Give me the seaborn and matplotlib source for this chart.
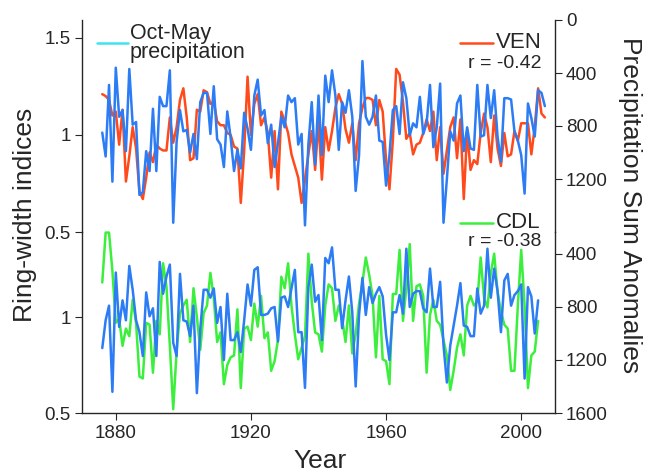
import numpy as np
import pandas as pd
import matplotlib
matplotlib.use('Agg')
import matplotlib.pyplot as plt
from matplotlib.lines import Line2D
import seaborn as sns

# Ring-width indices and Oct-May precipitation sums
ven = [1.21, 1.20, 1.18, 1.10, 1.12, 0.95, 1.13, 0.76, 0.89, 1.04,
       0.93, 0.71, 0.67, 0.78, 0.91, 0.86, 0.95, 0.93, 0.92, 0.92,
       1.09, 0.96, 1.04, 1.18, 1.24, 1.09, 0.87, 0.88, 1.13, 1.12,
       1.23, 1.22, 1.16, 1.17, 1.07, 1.05, 1.05, 1.01, 1.00, 0.94,
       0.93, 0.65, 0.92, 1.30, 1.00, 1.16, 1.21, 1.05, 1.09, 1.01,
       0.78, 1.02, 0.72, 1.12, 1.07, 1.01, 0.90, 0.84, 0.78, 0.65,
       0.77, 0.90, 1.02, 0.82, 1.07, 0.77, 1.04, 0.92, 1.02, 1.14,
       1.21, 1.16, 1.03, 0.96, 1.06, 0.87, 1.06, 1.14, 1.19, 1.19,
       1.18, 1.05, 1.18, 1.12, 0.87, 0.72, 0.97, 1.34, 1.31, 1.17,
       0.98, 1.01, 0.90, 0.95, 0.96, 1.01, 1.08, 1.02, 1.12, 0.87,
       1.04, 0.80, 0.92, 1.04, 1.09, 0.88, 1.08, 0.67, 1.02, 0.82,
       0.87, 0.85, 1.01, 1.11, 1.04, 0.86, 1.10, 0.93, 0.84, 1.01,
       0.89, 0.90, 1.02, 0.97, 1.06, 1.06, 1.06, 0.90, 1.04, 1.24,
       1.11, 1.09]
prec_ven = [850, 1030, 490, 1220, 360, 730, 680, 990, 370, 790,
            770, 1320, 1300, 990, 1140, 670, 1140, 580, 650, 650,
            380, 1530, 920, 680, 840, 830, 1000, 860, 1050, 620,
            550, 550, 860, 500, 900, 940, 1110, 690, 890, 1140,
            980, 1120, 700, 820, 980, 570, 450, 720, 680, 930,
            790, 1110, 930, 730, 810, 570, 620, 590, 940, 860,
            1550, 940, 620, 1090, 570, 1020, 420, 620, 380, 570,
            980, 620, 700, 530, 730, 1290, 1020, 310, 730, 790,
            730, 570, 910, 920, 1250, 1020, 680, 650, 860, 470,
            590, 870, 780, 810, 580, 860, 780, 490, 960, 810,
            480, 1530, 1200, 840, 910, 630, 570, 990, 810, 970,
            980, 490, 880, 870, 490, 740, 530, 880, 1070, 590,
            590, 600, 840, 910, 1020, 1310, 630, 740, 880, 530,
            550, 650]
cdl = [1.18, 1.44, 1.44, 1.24, 0.97, 0.99, 0.85, 0.94, 0.90, 1.09,
       0.97, 0.69, 0.68, 0.97, 0.96, 0.71, 0.98, 0.91, 1.28, 1.16,
       0.85, 0.52, 0.82, 1.02, 1.06, 1.09, 0.87, 1.15, 1.00, 0.83,
       1.02, 1.06, 1.23, 1.10, 0.87, 0.92, 0.65, 0.75, 0.79, 0.80,
       1.04, 0.63, 0.94, 0.95, 0.88, 1.07, 0.95, 1.11, 0.89, 0.92,
       0.72, 0.77, 0.88, 1.21, 1.15, 1.28, 1.06, 0.91, 0.78, 0.84,
       0.90, 1.33, 1.08, 0.92, 0.91, 0.82, 1.06, 1.17, 1.15, 0.98,
       1.06, 0.99, 0.87, 1.06, 0.81, 0.91, 1.07, 1.18, 1.31, 1.22,
       1.11, 0.79, 1.11, 0.78, 0.77, 0.65, 1.12, 1.12, 1.35, 0.98,
       1.15, 1.38, 0.98, 1.16, 1.17, 1.11, 0.71, 1.01, 1.09, 0.98,
       0.96, 0.88, 0.80, 0.62, 0.72, 0.84, 0.91, 0.80, 1.06, 1.11,
       1.06, 1.08, 1.31, 1.10, 1.05, 1.23, 1.33, 1.13, 1.03, 0.96,
       0.94, 0.72, 0.72, 1.06, 1.35, 1.06, 0.63, 0.80, 0.82, 0.98]
prec_cdl = [1110, 900, 790, 1440, 540, 950, 750, 900, 490, 670,
            900, 990, 1170, 690, 870, 810, 1170, 460, 700, 570,
            480, 1070, 1170, 550, 900, 910, 1020, 790, 1450, 970,
            670, 670, 730, 660, 920, 800, 1200, 700, 1050, 1050,
            990, 1140, 900, 630, 790, 520, 500, 860, 860, 850,
            810, 800, 1060, 730, 720, 800, 660, 520, 990, 990,
            1410, 650, 480, 760, 710, 1050, 430, 470, 350, 670,
            670, 960, 750, 570, 840, 1400, 860, 580, 860, 650,
            770, 700, 650, 720, 1010, 1200, 840, 840, 710, 850,
            360, 800, 700, 680, 680, 810, 840, 510, 800, 800,
            610, 1090, 1370, 1090, 940, 790, 620, 940, 950, 1020,
            1020, 660, 850, 790, 360, 730, 510, 680, 990, 600,
            550, 790, 710, 680, 630, 1340, 650, 720, 1000, 750]

years_ven = np.arange(1876, 1876 + len(ven))
years_cdl = np.arange(1876, 1876 + len(cdl))
df_ven = pd.DataFrame({'year': years_ven, 'ring': ven, 'prec': prec_ven})
df_cdl = pd.DataFrame({'year': years_cdl, 'ring': cdl, 'prec': prec_cdl})

RED = '#ff4a1c'
BLUE = '#2c7cf6'
GREEN = '#3cef3c'
CYAN = '#3ee4f2'

sns.set_style('ticks')
plt.rcParams['font.family'] = ['Liberation Sans', 'DejaVu Sans']
plt.rcParams['axes.linewidth'] = 1.0
plt.rcParams['xtick.major.size'] = 5
plt.rcParams['ytick.major.size'] = 5
plt.rcParams['xtick.labelsize'] = 13.5
plt.rcParams['ytick.labelsize'] = 13.5

W, H = 649, 475
fig = plt.figure(figsize=(W / 100, H / 100), dpi=100)

x0, x1 = 82, 555
top_box = [x0 / W, (H - 232) / H, (x1 - x0) / W, 212 / H]
bot_box = [x0 / W, (H - 413) / H, (x1 - x0) / W, 181 / H]

ax_top = fig.add_axes(top_box)
ax_topr = ax_top.twinx()
ax_bot = fig.add_axes(bot_box)
ax_botr = ax_bot.twinx()

lw = 1.8
sns.lineplot(data=df_ven, x='year', y='ring', ax=ax_top, color=RED, lw=lw, legend=False)
sns.lineplot(data=df_ven, x='year', y='prec', ax=ax_topr, color=BLUE, lw=lw, legend=False)
sns.lineplot(data=df_cdl, x='year', y='ring', ax=ax_bot, color=GREEN, lw=lw, legend=False)
sns.lineplot(data=df_cdl, x='year', y='prec', ax=ax_botr, color=BLUE, lw=lw, legend=False)

for a in (ax_top, ax_topr, ax_bot, ax_botr):
    a.set_xlim(1870, 2010)
    a.set_xlabel('')
    a.set_ylabel('')
    a.patch.set_visible(False)
    for ln in a.get_lines():
        ln.set_clip_on(False)
    a.spines['top'].set_visible(False)

ax_top.set_ylim(0.5, 1.592)
ax_top.set_yticks([0.5, 1, 1.5])
ax_top.set_yticklabels(['0.5', '1', '1.5'])
ax_topr.set_ylim(1600, 0)
ax_topr.set_yticks([0, 400, 800, 1200])

ax_bot.set_ylim(0.5, 1.443)
ax_bot.set_yticks([0.5, 1])
ax_bot.set_yticklabels(['0.5', '1'])
ax_botr.set_ylim(1600, 234)
ax_botr.set_yticks([400, 800, 1200, 1600])

for a in (ax_top, ax_topr):
    a.spines['bottom'].set_visible(False)
    a.tick_params(axis='x', bottom=False, labelbottom=False)
ax_top.spines['right'].set_visible(False)
ax_topr.spines['left'].set_visible(False)
ax_bot.spines['right'].set_visible(False)
ax_botr.spines['left'].set_visible(False)
ax_botr.spines['bottom'].set_visible(False)
ax_botr.tick_params(axis='x', bottom=False)

ax_bot.set_xticks([1880, 1920, 1960, 2000])
for a in (ax_top, ax_topr, ax_bot, ax_botr):
    a.tick_params(axis='y', pad=3)
ax_bot.tick_params(axis='x', pad=4)

# axis titles
fig.text(25 / W, 1 - 215 / H, 'Ring-width indices', rotation=90,
         ha='center', va='center', fontsize=19)
fig.text(320 / W, 1 - 461 / H, 'Year', ha='center', va='center', fontsize=19)
fig.text(630 / W, 1 - 205 / H, 'Precipitation Sum Anomalies', rotation=270,
         ha='center', va='center', fontsize=19)

# hand-placed keys
def key(xa, xb, y, color):
    fig.add_artist(Line2D([xa / W, xb / W], [1 - y / H, 1 - y / H],
                          color=color, lw=1.8, transform=fig.transFigure))

key(97, 128, 43, CYAN)
fig.text(130 / W, 1 - 39 / H, 'Oct-May', ha='left', va='baseline', fontsize=15.5)
fig.text(130 / W, 1 - 58 / H, 'precipitation', ha='left', va='baseline', fontsize=15.5)

key(460, 493, 43, RED)
fig.text(496 / W, 1 - 43 / H, 'VEN', ha='left', va='center', fontsize=16)
fig.text(541 / W, 1 - 63 / H, 'r = -0.42', ha='right', va='center', fontsize=14)

key(460, 493, 223, GREEN)
fig.text(496 / W, 1 - 223 / H, 'CDL', ha='left', va='center', fontsize=16)
fig.text(541 / W, 1 - 242 / H, 'r = -0.38', ha='right', va='center', fontsize=14)

fig.savefig('out.png', dpi=100)
